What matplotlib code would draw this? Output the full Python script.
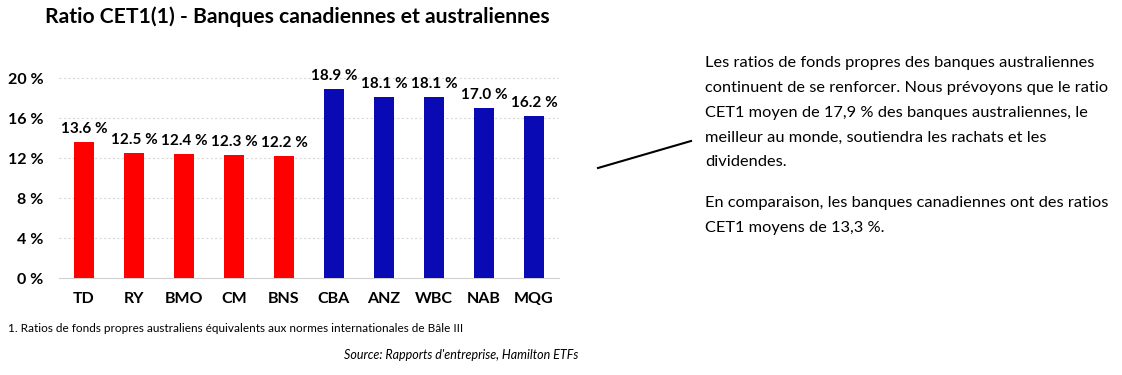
import matplotlib.pyplot as plt
import numpy as np

banques = ["TD", "RY", "BMO", "CM", "BNS", "CBA", "ANZ", "WBC", "NAB", "MQG"]
ratios = [13.6, 12.5, 12.4, 12.3, 12.2, 18.9, 18.1, 18.1, 17.0, 16.2]
couleurs = ["#FF0000"] * 5 + ["#0A0AB4"] * 5
yticks = [0, 4, 8, 12, 16, 20]

plt.rcParams['font.family'] = ['Lato', 'DejaVu Sans']

fig = plt.figure(figsize=(11.22, 3.75), dpi=100)
ax = fig.add_axes([59 / 1122, 1 - 278 / 375, 500 / 1122, 220 / 375])

x = np.arange(len(banques))
ax.bar(x, ratios, width=0.4, color=couleurs, zorder=3)
for xi, v in zip(x, ratios):
    ax.text(xi, v + 0.6, f"{v:.1f} %", ha='center', va='bottom',
            fontsize=11, fontweight='bold')

ax.set_xlim(-0.5, 9.5)
ax.set_ylim(0, 22)
ax.set_yticks(yticks)
ax.set_yticklabels([f"{t} %" for t in yticks], fontsize=11.5, fontweight='bold')
ax.set_xticks(x)
ax.set_xticklabels(banques, fontsize=11.5, fontweight='bold')
ax.tick_params(length=0, pad=11)
ax.tick_params(axis='x', pad=10)
for s in ['top', 'right', 'left']:
    ax.spines[s].set_visible(False)
ax.spines['bottom'].set_color('#D0D0D0')
ax.grid(axis='y', color='#DADADA', linestyle=(0, (2, 2)), linewidth=0.8, zorder=0)
ax.yaxis.get_gridlines()[0].set_visible(False)

fig.text(297 / 1122, 1 - 17 / 375, "Ratio CET1(1) - Banques canadiennes et australiennes",
         ha='center', va='center', fontsize=15.2, fontweight='bold')
fig.text(8 / 1122, 1 - 328 / 375,
         "1. Ratios de fonds propres australiens équivalents aux normes internationales de Bâle III",
         ha='left', va='center', fontsize=8.5)
fig.text(578 / 1122, 1 - 355 / 375, "Source: Rapports d'entreprise, Hamilton ETFs",
         ha='right', va='center', fontsize=9.0, style='italic')

lignes = [
    "Les ratios de fonds propres des banques australiennes",
    "continuent de se renforcer. Nous prévoyons que le ratio",
    "CET1 moyen de 17,9 % des banques australiennes, le",
    "meilleur au monde, soutiendra les rachats et les",
    "dividendes.",
]
for i, l in enumerate(lignes):
    fig.text(705 / 1122, 1 - (63 + 24.8 * i) / 375, l, ha='left', va='center', fontsize=11.8)
for i, l in enumerate(["En comparaison, les banques canadiennes ont des ratios",
                       "CET1 moyens de 13,3 %."]):
    fig.text(705 / 1122, 1 - (203 + 25 * i) / 375, l, ha='left', va='center', fontsize=11.8)

fig.add_artist(plt.Line2D([598 / 1122, 691 / 1122], [1 - 168 / 375, 1 - 141 / 375],
                          color='black', linewidth=1.5))

fig.savefig("out.png", dpi=100)
